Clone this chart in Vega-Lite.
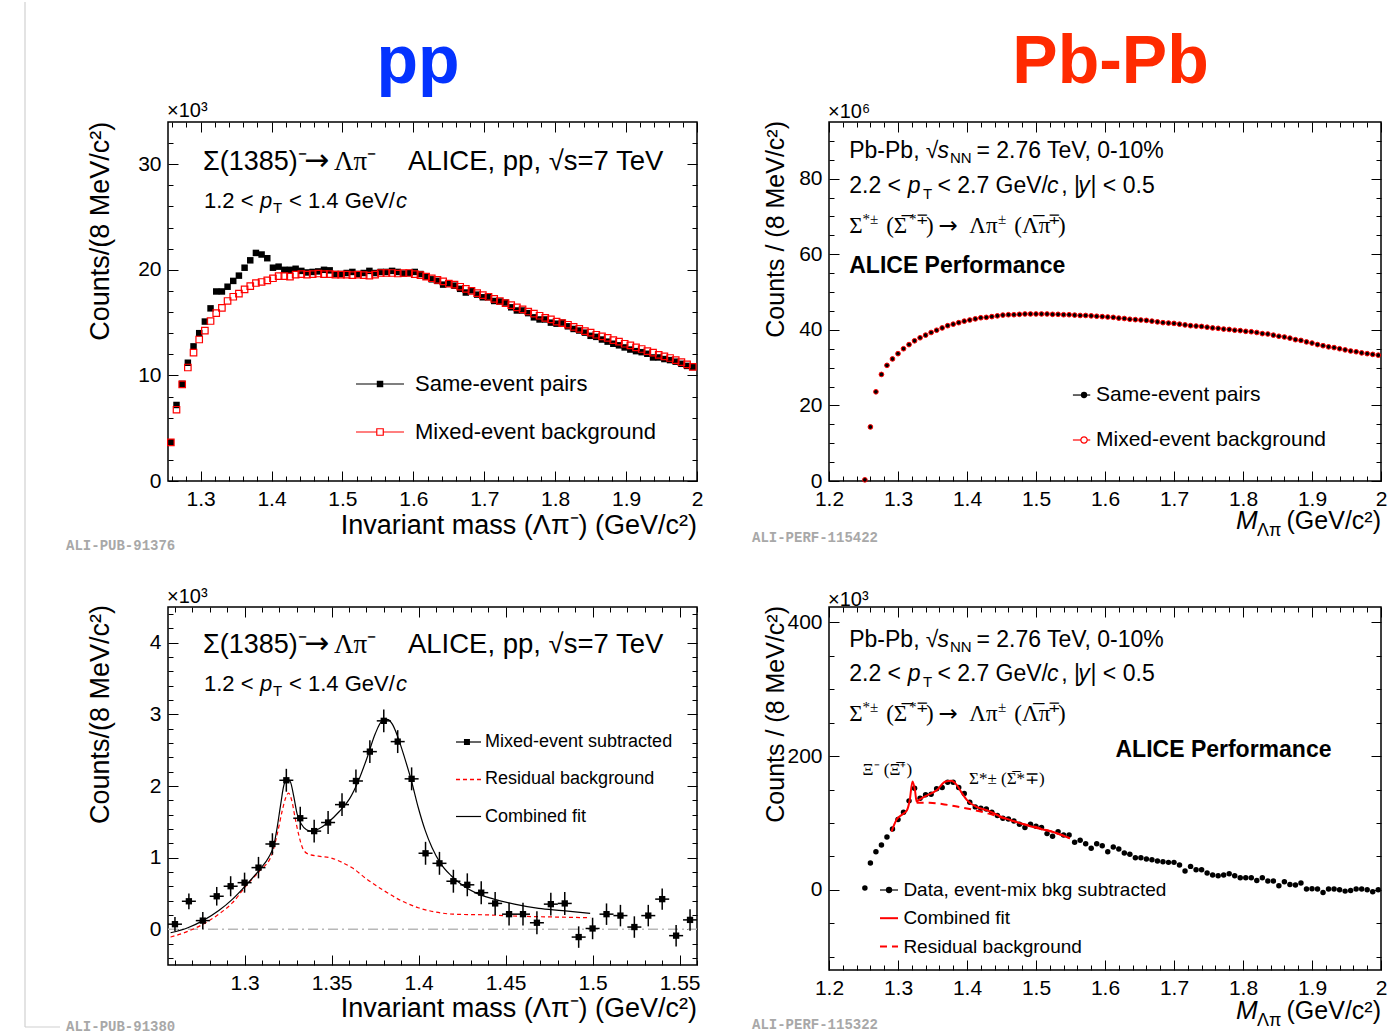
{
"$schema":"https://vega.github.io/schema/vega-lite/v6.json",
"padding":{"left":23,"top":0,"right":0,"bottom":0},
"background":"white",
"config":{
 "font":"Liberation Sans",
 "view":{"stroke":"black","strokeWidth":1.5},
 "axis":{"domain":false,"grid":false,"tickColor":"black","tickWidth":1,"labelColor":"black","labelFont":"Liberation Sans","labelFontSize":21,"labelFlush":false,"labelOverlap":false,"labelBound":false},
 "text":{"font":"Liberation Sans","color":"black","baseline":"alphabetic","align":"left","fontSize":22}
},
"datasets":{
 "tl":[{"m":1.258,"s":3.65,"b":3.65},{"m":1.266,"s":7.2,"b":6.75},{"m":1.274,"s":9.2,"b":9.15},{"m":1.282,"s":11.2,"b":10.75},{"m":1.29,"s":12.75,"b":12.15},{"m":1.298,"s":14.0,"b":13.4},{"m":1.306,"s":15.1,"b":14.25},{"m":1.314,"s":16.35,"b":15.15},{"m":1.322,"s":17.95,"b":15.9},{"m":1.33,"s":17.95,"b":16.4},{"m":1.338,"s":18.4,"b":17.05},{"m":1.346,"s":18.95,"b":17.45},{"m":1.354,"s":19.45,"b":17.75},{"m":1.362,"s":20.2,"b":18.15},{"m":1.37,"s":20.9,"b":18.45},{"m":1.378,"s":21.6,"b":18.75},{"m":1.386,"s":21.45,"b":18.85},{"m":1.394,"s":21.1,"b":19.0},{"m":1.402,"s":20.2,"b":19.2},{"m":1.41,"s":20.3,"b":19.4},{"m":1.418,"s":20.0,"b":19.4},{"m":1.426,"s":20.0,"b":19.35},{"m":1.434,"s":20.1,"b":19.55},{"m":1.442,"s":19.9,"b":19.6},{"m":1.45,"s":19.75,"b":19.55},{"m":1.458,"s":19.8,"b":19.6},{"m":1.466,"s":19.85,"b":19.65},{"m":1.474,"s":20.0,"b":19.6},{"m":1.482,"s":19.95,"b":19.6},{"m":1.49,"s":19.6,"b":19.55},{"m":1.498,"s":19.6,"b":19.55},{"m":1.506,"s":19.7,"b":19.55},{"m":1.514,"s":19.8,"b":19.5},{"m":1.522,"s":19.6,"b":19.55},{"m":1.53,"s":19.7,"b":19.5},{"m":1.538,"s":19.9,"b":19.45},{"m":1.546,"s":19.7,"b":19.55},{"m":1.554,"s":19.8,"b":19.7},{"m":1.562,"s":19.8,"b":19.7},{"m":1.57,"s":19.9,"b":19.7},{"m":1.578,"s":19.8,"b":19.65},{"m":1.586,"s":19.65,"b":19.7},{"m":1.594,"s":19.7,"b":19.7},{"m":1.602,"s":19.8,"b":19.6},{"m":1.61,"s":19.6,"b":19.5},{"m":1.618,"s":19.35,"b":19.35},{"m":1.626,"s":19.1,"b":19.2},{"m":1.634,"s":18.95,"b":19.05},{"m":1.642,"s":18.6,"b":18.9},{"m":1.65,"s":18.7,"b":18.7},{"m":1.658,"s":18.5,"b":18.6},{"m":1.666,"s":18.2,"b":18.4},{"m":1.674,"s":17.85,"b":18.2},{"m":1.682,"s":18.05,"b":18.0},{"m":1.69,"s":17.65,"b":17.8},{"m":1.698,"s":17.4,"b":17.6},{"m":1.706,"s":17.4,"b":17.45},{"m":1.714,"s":17.05,"b":17.25},{"m":1.722,"s":17.0,"b":17.05},{"m":1.73,"s":16.9,"b":16.85},{"m":1.738,"s":16.45,"b":16.65},{"m":1.746,"s":16.15,"b":16.45},{"m":1.754,"s":16.15,"b":16.25},{"m":1.762,"s":15.9,"b":16.05},{"m":1.77,"s":15.5,"b":15.85},{"m":1.778,"s":15.3,"b":15.65},{"m":1.786,"s":15.3,"b":15.45},{"m":1.794,"s":15.0,"b":15.3},{"m":1.802,"s":14.9,"b":15.1},{"m":1.81,"s":15.0,"b":14.95},{"m":1.818,"s":14.65,"b":14.8},{"m":1.826,"s":14.4,"b":14.6},{"m":1.834,"s":14.25,"b":14.4},{"m":1.842,"s":14.05,"b":14.2},{"m":1.85,"s":13.75,"b":14.05},{"m":1.858,"s":13.65,"b":13.85},{"m":1.866,"s":13.4,"b":13.7},{"m":1.874,"s":13.2,"b":13.55},{"m":1.882,"s":13.0,"b":13.35},{"m":1.89,"s":12.85,"b":13.2},{"m":1.898,"s":12.65,"b":13.0},{"m":1.906,"s":12.45,"b":12.85},{"m":1.914,"s":12.3,"b":12.65},{"m":1.922,"s":12.2,"b":12.5},{"m":1.93,"s":12.05,"b":12.3},{"m":1.938,"s":11.7,"b":12.15},{"m":1.946,"s":11.7,"b":11.95},{"m":1.954,"s":11.55,"b":11.8},{"m":1.962,"s":11.45,"b":11.65},{"m":1.97,"s":11.3,"b":11.45},{"m":1.978,"s":11.1,"b":11.25},{"m":1.986,"s":10.9,"b":11.05},{"m":1.994,"s":10.8,"b":10.8}],
 "tr":[{"m":1.252,"s":0.3},{"m":1.26,"s":14.3},{"m":1.268,"s":23.6},{"m":1.276,"s":28.2},{"m":1.284,"s":30.6},{"m":1.292,"s":32.3},{"m":1.3,"s":33.7},{"m":1.308,"s":35.0},{"m":1.316,"s":36.1},{"m":1.324,"s":37.1},{"m":1.332,"s":37.9},{"m":1.34,"s":38.6},{"m":1.348,"s":39.3},{"m":1.356,"s":39.9},{"m":1.364,"s":40.5},{"m":1.372,"s":41.1},{"m":1.38,"s":41.5},{"m":1.388,"s":41.9},{"m":1.396,"s":42.3},{"m":1.404,"s":42.6},{"m":1.412,"s":42.9},{"m":1.42,"s":43.2},{"m":1.428,"s":43.3},{"m":1.436,"s":43.5},{"m":1.444,"s":43.7},{"m":1.452,"s":43.9},{"m":1.46,"s":44.0},{"m":1.468,"s":44.0},{"m":1.476,"s":44.1},{"m":1.484,"s":44.2},{"m":1.492,"s":44.2},{"m":1.5,"s":44.2},{"m":1.508,"s":44.2},{"m":1.516,"s":44.2},{"m":1.524,"s":44.1},{"m":1.532,"s":44.1},{"m":1.54,"s":44.0},{"m":1.548,"s":44.0},{"m":1.556,"s":43.9},{"m":1.564,"s":43.8},{"m":1.572,"s":43.8},{"m":1.58,"s":43.7},{"m":1.588,"s":43.6},{"m":1.596,"s":43.5},{"m":1.604,"s":43.4},{"m":1.612,"s":43.3},{"m":1.62,"s":43.1},{"m":1.628,"s":43.0},{"m":1.636,"s":42.8},{"m":1.644,"s":42.7},{"m":1.652,"s":42.6},{"m":1.66,"s":42.5},{"m":1.668,"s":42.3},{"m":1.676,"s":42.1},{"m":1.684,"s":41.9},{"m":1.692,"s":41.8},{"m":1.7,"s":41.7},{"m":1.708,"s":41.5},{"m":1.716,"s":41.3},{"m":1.724,"s":41.1},{"m":1.732,"s":41.0},{"m":1.74,"s":40.9},{"m":1.748,"s":40.7},{"m":1.756,"s":40.5},{"m":1.764,"s":40.4},{"m":1.772,"s":40.2},{"m":1.78,"s":40.1},{"m":1.788,"s":39.9},{"m":1.796,"s":39.8},{"m":1.804,"s":39.6},{"m":1.812,"s":39.5},{"m":1.82,"s":39.3},{"m":1.828,"s":39.0},{"m":1.836,"s":38.9},{"m":1.844,"s":38.6},{"m":1.852,"s":38.3},{"m":1.86,"s":38.1},{"m":1.868,"s":37.8},{"m":1.876,"s":37.4},{"m":1.884,"s":37.2},{"m":1.892,"s":36.8},{"m":1.9,"s":36.5},{"m":1.908,"s":36.1},{"m":1.916,"s":35.8},{"m":1.924,"s":35.5},{"m":1.932,"s":35.3},{"m":1.94,"s":35.0},{"m":1.948,"s":34.7},{"m":1.956,"s":34.4},{"m":1.964,"s":34.2},{"m":1.972,"s":33.9},{"m":1.98,"s":33.7},{"m":1.988,"s":33.5},{"m":1.996,"s":33.3}],
 "bl":[{"m":1.26,"y":0.07,"e":0.1},{"m":1.268,"y":0.39,"e":0.11},{"m":1.276,"y":0.12,"e":0.12},{"m":1.284,"y":0.46,"e":0.13},{"m":1.292,"y":0.6,"e":0.14},{"m":1.3,"y":0.65,"e":0.14},{"m":1.308,"y":0.86,"e":0.15},{"m":1.316,"y":1.19,"e":0.15},{"m":1.324,"y":2.08,"e":0.16},{"m":1.332,"y":1.55,"e":0.16},{"m":1.34,"y":1.37,"e":0.16},{"m":1.348,"y":1.49,"e":0.16},{"m":1.356,"y":1.74,"e":0.16},{"m":1.364,"y":2.07,"e":0.16},{"m":1.372,"y":2.48,"e":0.16},{"m":1.38,"y":2.91,"e":0.16},{"m":1.388,"y":2.62,"e":0.16},{"m":1.396,"y":2.1,"e":0.16},{"m":1.404,"y":1.06,"e":0.16},{"m":1.412,"y":0.92,"e":0.16},{"m":1.42,"y":0.67,"e":0.16},{"m":1.428,"y":0.62,"e":0.16},{"m":1.436,"y":0.51,"e":0.16},{"m":1.444,"y":0.36,"e":0.16},{"m":1.452,"y":0.21,"e":0.16},{"m":1.46,"y":0.21,"e":0.16},{"m":1.468,"y":0.09,"e":0.16},{"m":1.476,"y":0.35,"e":0.16},{"m":1.484,"y":0.36,"e":0.16},{"m":1.492,"y":-0.11,"e":0.15},{"m":1.5,"y":0.01,"e":0.15},{"m":1.508,"y":0.21,"e":0.15},{"m":1.516,"y":0.19,"e":0.15},{"m":1.524,"y":0.03,"e":0.15},{"m":1.532,"y":0.19,"e":0.15},{"m":1.54,"y":0.42,"e":0.15},{"m":1.548,"y":-0.09,"e":0.15},{"m":1.556,"y":0.13,"e":0.15}],
 "blfit":[{"m":1.2575,"y":-0.05},{"m":1.2674,"y":0.02},{"m":1.2761,"y":0.12},{"m":1.2852,"y":0.26},{"m":1.2931,"y":0.42},{"m":1.301,"y":0.62},{"m":1.3089,"y":0.84},{"m":1.3138,"y":1.0},{"m":1.3168,"y":1.17},{"m":1.3188,"y":1.43},{"m":1.3208,"y":1.75},{"m":1.3227,"y":2.02},{"m":1.3247,"y":2.09},{"m":1.3263,"y":2.06},{"m":1.3283,"y":1.85},{"m":1.3302,"y":1.61},{"m":1.3326,"y":1.47},{"m":1.3356,"y":1.39},{"m":1.3385,"y":1.37},{"m":1.3425,"y":1.4},{"m":1.3484,"y":1.5},{"m":1.3543,"y":1.64},{"m":1.3603,"y":1.82},{"m":1.3652,"y":2.06},{"m":1.3702,"y":2.38},{"m":1.3751,"y":2.73},{"m":1.3791,"y":2.91},{"m":1.382,"y":2.93},{"m":1.385,"y":2.86},{"m":1.388,"y":2.69},{"m":1.3919,"y":2.4},{"m":1.3958,"y":2.08},{"m":1.3998,"y":1.7},{"m":1.4038,"y":1.38},{"m":1.4077,"y":1.14},{"m":1.4126,"y":0.92},{"m":1.4186,"y":0.75},{"m":1.4255,"y":0.61},{"m":1.4334,"y":0.5},{"m":1.4433,"y":0.42},{"m":1.4551,"y":0.35},{"m":1.469,"y":0.29},{"m":1.4828,"y":0.26},{"m":1.4986,"y":0.22}],
 "blbg":[{"m":1.2575,"y":-0.11},{"m":1.2674,"y":-0.03},{"m":1.2761,"y":0.07},{"m":1.2852,"y":0.21},{"m":1.2931,"y":0.37},{"m":1.301,"y":0.61},{"m":1.3089,"y":0.82},{"m":1.3158,"y":1.05},{"m":1.3188,"y":1.33},{"m":1.3217,"y":1.66},{"m":1.3237,"y":1.84},{"m":1.3253,"y":1.9},{"m":1.3271,"y":1.8},{"m":1.329,"y":1.56},{"m":1.331,"y":1.33},{"m":1.3336,"y":1.12},{"m":1.3366,"y":1.05},{"m":1.3425,"y":1.02},{"m":1.3504,"y":0.99},{"m":1.3563,"y":0.93},{"m":1.3623,"y":0.85},{"m":1.3702,"y":0.7},{"m":1.38,"y":0.54},{"m":1.3899,"y":0.4},{"m":1.3998,"y":0.3},{"m":1.4097,"y":0.24},{"m":1.4196,"y":0.21},{"m":1.4393,"y":0.2},{"m":1.459,"y":0.18},{"m":1.4789,"y":0.17},{"m":1.4986,"y":0.16}],
 "br":[{"m":1.252,"y":2.5},{"m":1.26,"y":40},{"m":1.268,"y":57},{"m":1.276,"y":67},{"m":1.284,"y":79},{"m":1.292,"y":91},{"m":1.3,"y":105},{"m":1.308,"y":116},{"m":1.316,"y":133},{"m":1.324,"y":152},{"m":1.332,"y":137},{"m":1.34,"y":142},{"m":1.348,"y":143},{"m":1.356,"y":151},{"m":1.364,"y":153},{"m":1.372,"y":161},{"m":1.38,"y":161},{"m":1.388,"y":153},{"m":1.396,"y":144},{"m":1.404,"y":131},{"m":1.412,"y":124},{"m":1.42,"y":122},{"m":1.428,"y":121},{"m":1.436,"y":116},{"m":1.444,"y":111},{"m":1.452,"y":107},{"m":1.46,"y":106},{"m":1.468,"y":103},{"m":1.476,"y":98},{"m":1.484,"y":93},{"m":1.492,"y":98},{"m":1.5,"y":95},{"m":1.508,"y":93},{"m":1.516,"y":84},{"m":1.524,"y":80},{"m":1.532,"y":87},{"m":1.54,"y":82},{"m":1.548,"y":82},{"m":1.556,"y":71},{"m":1.564,"y":74},{"m":1.572,"y":69},{"m":1.58,"y":62},{"m":1.588,"y":69},{"m":1.596,"y":66},{"m":1.604,"y":57},{"m":1.612,"y":64},{"m":1.62,"y":61},{"m":1.628,"y":55},{"m":1.636,"y":53},{"m":1.644,"y":48},{"m":1.652,"y":48},{"m":1.66,"y":46},{"m":1.668,"y":45},{"m":1.676,"y":43},{"m":1.684,"y":42},{"m":1.692,"y":41},{"m":1.7,"y":41},{"m":1.708,"y":37},{"m":1.716,"y":28},{"m":1.724,"y":35},{"m":1.732,"y":30},{"m":1.74,"y":30},{"m":1.748,"y":25},{"m":1.756,"y":22},{"m":1.764,"y":21},{"m":1.772,"y":22},{"m":1.78,"y":24},{"m":1.788,"y":21},{"m":1.796,"y":18},{"m":1.804,"y":18},{"m":1.812,"y":18},{"m":1.82,"y":14},{"m":1.828,"y":18},{"m":1.836,"y":13},{"m":1.844,"y":13},{"m":1.852,"y":6},{"m":1.86,"y":12},{"m":1.868,"y":8},{"m":1.876,"y":7},{"m":1.884,"y":10},{"m":1.892,"y":1},{"m":1.9,"y":1.5},{"m":1.908,"y":1},{"m":1.916,"y":-4},{"m":1.924,"y":1},{"m":1.932,"y":1},{"m":1.94,"y":0},{"m":1.948,"y":-2},{"m":1.956,"y":-1},{"m":1.964,"y":1},{"m":1.972,"y":1},{"m":1.98,"y":0},{"m":1.988,"y":-3},{"m":1.996,"y":0}],
 "brfit":[{"m":1.2906,"y":87},{"m":1.298,"y":105},{"m":1.308,"y":114},{"m":1.313,"y":119},{"m":1.317,"y":134},{"m":1.321,"y":162},{"m":1.3246,"y":149},{"m":1.327,"y":132},{"m":1.33,"y":134},{"m":1.34,"y":140},{"m":1.356,"y":149},{"m":1.369,"y":162},{"m":1.377,"y":163},{"m":1.385,"y":157},{"m":1.393,"y":144},{"m":1.4,"y":134},{"m":1.4136,"y":124},{"m":1.429,"y":119},{"m":1.45,"y":109},{"m":1.476,"y":100},{"m":1.5026,"y":92},{"m":1.529,"y":85},{"m":1.549,"y":77}],
 "brbg":[{"m":1.327,"y":130},{"m":1.3455,"y":130},{"m":1.3717,"y":127},{"m":1.398,"y":122},{"m":1.424,"y":116},{"m":1.45,"y":108},{"m":1.476,"y":100},{"m":1.503,"y":93},{"m":1.529,"y":85},{"m":1.549,"y":77}]
},
"columns":2,
"spacing":{"row":126,"column":132},
"bounds":"flush",
"align":"each",
"concat":[
{
 "width":529,"height":359,
 "resolve":{"axis":{"x":"independent","y":"independent"}},
 "layer":[
  {"data":{"name":"tl"},"mark":{"type":"point","opacity":0},"encoding":{
   "x":{"field":"m","type":"quantitative","scale":{"domain":[1.254,2]},"axis":{"orient":"bottom","title":null,"values":[1.3,1.4,1.5,1.6,1.7,1.8,1.9,2],"format":"~r","tickSize":-10,"labelPadding":17}},
   "y":{"field":"s","type":"quantitative","scale":{"domain":[0,34]},"axis":{"orient":"left","title":null,"values":[0,10,20,30],"format":"~r","tickSize":-10,"labelPadding":17}}}},
  {"data":{"name":"tl"},"mark":{"type":"point","opacity":0},"encoding":{
   "x":{"field":"m","type":"quantitative","scale":{"domain":[1.254,2]},"axis":{"orient":"bottom","title":null,"labels":false,"values":[1.26,1.28,1.32,1.34,1.36,1.38,1.42,1.44,1.46,1.48,1.52,1.54,1.56,1.58,1.62,1.64,1.66,1.68,1.72,1.74,1.76,1.78,1.82,1.84,1.86,1.88,1.92,1.94,1.96,1.98],"tickSize":-5}},
   "y":{"field":"s","type":"quantitative","scale":{"domain":[0,34]},"axis":{"orient":"left","title":null,"labels":false,"values":[2,4,6,8,12,14,16,18,22,24,26,28,32],"tickSize":-5}}}},
  {"data":{"name":"tl"},"mark":{"type":"point","opacity":0},"encoding":{
   "x":{"field":"m","type":"quantitative","scale":{"domain":[1.254,2]},"axis":{"orient":"top","title":null,"labels":false,"values":[1.3,1.4,1.5,1.6,1.7,1.8,1.9,2],"tickSize":-10}},
   "y":{"field":"s","type":"quantitative","scale":{"domain":[0,34]},"axis":{"orient":"right","title":null,"labels":false,"values":[0,10,20,30],"tickSize":-10}}}},
  {"data":{"name":"tl"},"mark":{"type":"point","opacity":0},"encoding":{
   "x":{"field":"m","type":"quantitative","scale":{"domain":[1.254,2]},"axis":{"orient":"top","title":null,"labels":false,"values":[1.26,1.28,1.32,1.34,1.36,1.38,1.42,1.44,1.46,1.48,1.52,1.54,1.56,1.58,1.62,1.64,1.66,1.68,1.72,1.74,1.76,1.78,1.82,1.84,1.86,1.88,1.92,1.94,1.96,1.98],"tickSize":-5}},
   "y":{"field":"s","type":"quantitative","scale":{"domain":[0,34]},"axis":{"orient":"right","title":null,"labels":false,"values":[2,4,6,8,12,14,16,18,22,24,26,28,32],"tickSize":-5}}}},
  {"data":{"name":"tl"},"mark":{"type":"square","filled":true,"color":"black","size":42,"opacity":1},"encoding":{
   "x":{"field":"m","type":"quantitative","scale":{"domain":[1.254,2]},"axis":null},
   "y":{"field":"s","type":"quantitative","scale":{"domain":[0,34]},"axis":null}}},
  {"data":{"name":"tl"},"mark":{"type":"square","filled":false,"color":"#ff0000","strokeWidth":1.2,"size":42,"opacity":1},"encoding":{
   "x":{"field":"m","type":"quantitative","scale":{"domain":[1.254,2]},"axis":null},
   "y":{"field":"b","type":"quantitative","scale":{"domain":[0,34]},"axis":null}}},
  {"data":{"values":[{}]},"layer":[
   {"mark":{"type":"rule","color":"#d0d0d0","strokeWidth":1.2},"encoding":{"x":{"datum":1.05234,"type":"quantitative","scale":{"domain":[1.254,2]},"axis":null},"y":{"datum":45.365,"type":"quantitative","scale":{"domain":[0,34]},"axis":null},"y2":{"datum":-51.71}}},
   {"mark":{"type":"rule","color":"#d0d0d0","strokeWidth":1.2},"encoding":{"x":{"datum":1.05234,"type":"quantitative","scale":{"domain":[1.254,2]},"axis":null},"x2":{"datum":1.1017},"y":{"datum":-51.71,"type":"quantitative","scale":{"domain":[0,34]},"axis":null}}},
   {"mark":{"type":"text","text":"pp","fontSize":68,"fontWeight":"bold","color":"#0433ff","align":"center"},"encoding":{"x":{"datum":1.6066,"type":"quantitative","scale":{"domain":[1.254,2]},"axis":null},"y":{"datum":37.69,"type":"quantitative","scale":{"domain":[0,34]},"axis":null}}},
   {"mark":{"type":"text","text":"×10³","fontSize":20},"encoding":{"x":{"datum":1.2526,"type":"quantitative","scale":{"domain":[1.254,2]},"axis":null},"y":{"datum":34.47,"type":"quantitative","scale":{"domain":[0,34]},"axis":null}}},
   {"mark":{"type":"text","text":"Σ(1385)⁻","fontSize":27},"encoding":{"x":{"datum":1.3034,"type":"quantitative","scale":{"domain":[1.254,2]},"axis":null},"y":{"datum":29.45,"type":"quantitative","scale":{"domain":[0,34]},"axis":null}}},
   {"mark":{"type":"text","text":"→","fontSize":30,"font":"DejaVu Sans"},"encoding":{"x":{"datum":1.4458,"type":"quantitative","scale":{"domain":[1.254,2]},"axis":null},"y":{"datum":29.45,"type":"quantitative","scale":{"domain":[0,34]},"axis":null}}},
   {"mark":{"type":"text","text":"Λπ","fontSize":27,"font":"Liberation Serif"},"encoding":{"x":{"datum":1.4881,"type":"quantitative","scale":{"domain":[1.254,2]},"axis":null},"y":{"datum":29.45,"type":"quantitative","scale":{"domain":[0,34]},"axis":null}}},
   {"mark":{"type":"text","text":"⁻","fontSize":27},"encoding":{"x":{"datum":1.5346,"type":"quantitative","scale":{"domain":[1.254,2]},"axis":null},"y":{"datum":29.45,"type":"quantitative","scale":{"domain":[0,34]},"axis":null}}},
   {"mark":{"type":"text","text":"ALICE, pp, √s=7 TeV","fontSize":27.5},"encoding":{"x":{"datum":1.5925,"type":"quantitative","scale":{"domain":[1.254,2]},"axis":null},"y":{"datum":29.45,"type":"quantitative","scale":{"domain":[0,34]},"axis":null}}},
   {"mark":{"type":"text","text":"1.2 <","fontSize":22},"encoding":{"x":{"datum":1.3048,"type":"quantitative","scale":{"domain":[1.254,2]},"axis":null},"y":{"datum":25.855,"type":"quantitative","scale":{"domain":[0,34]},"axis":null}}},
   {"mark":{"type":"text","text":"p","fontSize":22,"fontStyle":"italic","dx":56},"encoding":{"x":{"datum":1.3048,"type":"quantitative","scale":{"domain":[1.254,2]},"axis":null},"y":{"datum":25.855,"type":"quantitative","scale":{"domain":[0,34]},"axis":null}}},
   {"mark":{"type":"text","text":"T","fontSize":15,"dx":69,"dy":5},"encoding":{"x":{"datum":1.3048,"type":"quantitative","scale":{"domain":[1.254,2]},"axis":null},"y":{"datum":25.855,"type":"quantitative","scale":{"domain":[0,34]},"axis":null}}},
   {"mark":{"type":"text","text":"< 1.4 GeV/","fontSize":22,"dx":85},"encoding":{"x":{"datum":1.3048,"type":"quantitative","scale":{"domain":[1.254,2]},"axis":null},"y":{"datum":25.855,"type":"quantitative","scale":{"domain":[0,34]},"axis":null}}},
   {"mark":{"type":"text","text":"c","fontSize":22,"fontStyle":"italic","dx":192},"encoding":{"x":{"datum":1.3048,"type":"quantitative","scale":{"domain":[1.254,2]},"axis":null},"y":{"datum":25.855,"type":"quantitative","scale":{"domain":[0,34]},"axis":null}}},
   {"mark":{"type":"rule","color":"black","strokeWidth":1.2},"encoding":{"x":{"datum":1.5191,"type":"quantitative","scale":{"domain":[1.254,2]},"axis":null},"x2":{"datum":1.5868},"y":{"datum":9.187,"type":"quantitative","scale":{"domain":[0,34]},"axis":null}}},
   {"mark":{"type":"square","filled":true,"color":"black","size":42,"opacity":1},"encoding":{"x":{"datum":1.553,"type":"quantitative","scale":{"domain":[1.254,2]},"axis":null},"y":{"datum":9.187,"type":"quantitative","scale":{"domain":[0,34]},"axis":null}}},
   {"mark":{"type":"text","text":"Same-event pairs","fontSize":22,"baseline":"middle"},"encoding":{"x":{"datum":1.6023,"type":"quantitative","scale":{"domain":[1.254,2]},"axis":null},"y":{"datum":9.187,"type":"quantitative","scale":{"domain":[0,34]},"axis":null}}},
   {"mark":{"type":"rule","color":"#ff0000","strokeWidth":1.2},"encoding":{"x":{"datum":1.5191,"type":"quantitative","scale":{"domain":[1.254,2]},"axis":null},"x2":{"datum":1.5868},"y":{"datum":4.641,"type":"quantitative","scale":{"domain":[0,34]},"axis":null}}},
   {"mark":{"type":"square","filled":true,"color":"white","size":42,"opacity":1},"encoding":{"x":{"datum":1.553,"type":"quantitative","scale":{"domain":[1.254,2]},"axis":null},"y":{"datum":4.641,"type":"quantitative","scale":{"domain":[0,34]},"axis":null}}},
   {"mark":{"type":"square","filled":false,"color":"#ff0000","strokeWidth":1.2,"size":42,"opacity":1},"encoding":{"x":{"datum":1.553,"type":"quantitative","scale":{"domain":[1.254,2]},"axis":null},"y":{"datum":4.641,"type":"quantitative","scale":{"domain":[0,34]},"axis":null}}},
   {"mark":{"type":"text","text":"Mixed-event background","fontSize":22,"baseline":"middle"},"encoding":{"x":{"datum":1.6023,"type":"quantitative","scale":{"domain":[1.254,2]},"axis":null},"y":{"datum":4.641,"type":"quantitative","scale":{"domain":[0,34]},"axis":null}}},
   {"mark":{"type":"text","text":"Invariant mass (Λπ⁻) (GeV/c²)","fontSize":27,"align":"right"},"encoding":{"x":{"datum":2.0,"type":"quantitative","scale":{"domain":[1.254,2]},"axis":null},"y":{"datum":-5.02,"type":"quantitative","scale":{"domain":[0,34]},"axis":null}}},
   {"mark":{"type":"text","text":"Counts/(8 MeV/c²)","fontSize":27,"align":"right","angle":270},"encoding":{"x":{"datum":1.1708,"type":"quantitative","scale":{"domain":[1.254,2]},"axis":null},"y":{"datum":34.03,"type":"quantitative","scale":{"domain":[0,34]},"axis":null}}},
   {"mark":{"type":"text","text":"ALI-PUB-91376","font":"Liberation Mono","fontWeight":"bold","fontSize":14,"color":"#a8a8a8"},"encoding":{"x":{"datum":1.1102,"type":"quantitative","scale":{"domain":[1.254,2]},"axis":null},"y":{"datum":-6.535,"type":"quantitative","scale":{"domain":[0,34]},"axis":null}}}
  ]}
 ]
},
{
 "width":552,"height":359,
 "resolve":{"axis":{"x":"independent","y":"independent"}},
 "layer":[
  {"data":{"name":"tr"},"mark":{"type":"point","opacity":0},"encoding":{
   "x":{"field":"m","type":"quantitative","scale":{"domain":[1.2,2]},"axis":{"orient":"bottom","title":null,"values":[1.2,1.3,1.4,1.5,1.6,1.7,1.8,1.9,2],"format":"~r","tickSize":-10,"labelPadding":17}},
   "y":{"field":"s","type":"quantitative","scale":{"domain":[0,95]},"axis":{"orient":"left","title":null,"values":[0,20,40,60,80],"format":"~r","tickSize":-10,"labelPadding":17}}}},
  {"data":{"name":"tr"},"mark":{"type":"point","opacity":0},"encoding":{
   "x":{"field":"m","type":"quantitative","scale":{"domain":[1.2,2]},"axis":{"orient":"bottom","title":null,"labels":false,"values":[1.22,1.24,1.26,1.28,1.32,1.34,1.36,1.38,1.42,1.44,1.46,1.48,1.52,1.54,1.56,1.58,1.62,1.64,1.66,1.68,1.72,1.74,1.76,1.78,1.82,1.84,1.86,1.88,1.92,1.94,1.96,1.98],"tickSize":-5}},
   "y":{"field":"s","type":"quantitative","scale":{"domain":[0,95]},"axis":{"orient":"left","title":null,"labels":false,"values":[5,10,15,25,30,35,45,50,55,65,70,75,85,90],"tickSize":-5}}}},
  {"data":{"name":"tr"},"mark":{"type":"point","opacity":0},"encoding":{
   "x":{"field":"m","type":"quantitative","scale":{"domain":[1.2,2]},"axis":{"orient":"top","title":null,"labels":false,"values":[1.2,1.3,1.4,1.5,1.6,1.7,1.8,1.9,2],"tickSize":-10}},
   "y":{"field":"s","type":"quantitative","scale":{"domain":[0,95]},"axis":{"orient":"right","title":null,"labels":false,"values":[0,20,40,60,80],"tickSize":-10}}}},
  {"data":{"name":"tr"},"mark":{"type":"point","opacity":0},"encoding":{
   "x":{"field":"m","type":"quantitative","scale":{"domain":[1.2,2]},"axis":{"orient":"top","title":null,"labels":false,"values":[1.22,1.24,1.26,1.28,1.32,1.34,1.36,1.38,1.42,1.44,1.46,1.48,1.52,1.54,1.56,1.58,1.62,1.64,1.66,1.68,1.72,1.74,1.76,1.78,1.82,1.84,1.86,1.88,1.92,1.94,1.96,1.98],"tickSize":-5}},
   "y":{"field":"s","type":"quantitative","scale":{"domain":[0,95]},"axis":{"orient":"right","title":null,"labels":false,"values":[5,10,15,25,30,35,45,50,55,65,70,75,85,90],"tickSize":-5}}}},
  {"data":{"name":"tr"},"mark":{"type":"circle","color":"black","size":22,"opacity":1},"encoding":{
   "x":{"field":"m","type":"quantitative","scale":{"domain":[1.2,2]},"axis":null},
   "y":{"field":"s","type":"quantitative","scale":{"domain":[0,95]},"axis":null}}},
  {"data":{"name":"tr"},"mark":{"type":"point","shape":"circle","filled":false,"color":"#ff0000","strokeWidth":1,"size":22,"opacity":1},"encoding":{
   "x":{"field":"m","type":"quantitative","scale":{"domain":[1.2,2]},"axis":null},
   "y":{"field":"s","type":"quantitative","scale":{"domain":[0,95]},"axis":null}}},
  {"data":{"values":[{}]},"layer":[
   {"mark":{"type":"text","text":"Pb-Pb","fontSize":68,"fontWeight":"bold","color":"#ff2a00","align":"center"},"encoding":{"x":{"datum":1.608,"type":"quantitative","scale":{"domain":[1.2,2]},"axis":null},"y":{"datum":105.32,"type":"quantitative","scale":{"domain":[0,95]},"axis":null}}},
   {"mark":{"type":"text","text":"×10⁶","fontSize":20},"encoding":{"x":{"datum":1.1986,"type":"quantitative","scale":{"domain":[1.2,2]},"axis":null},"y":{"datum":96.06,"type":"quantitative","scale":{"domain":[0,95]},"axis":null}}},
   {"mark":{"type":"text","text":"Pb-Pb,","fontSize":23},"encoding":{"x":{"datum":1.2293,"type":"quantitative","scale":{"domain":[1.2,2]},"axis":null},"y":{"datum":85.37,"type":"quantitative","scale":{"domain":[0,95]},"axis":null}}},
   {"mark":{"type":"text","text":"√","fontSize":23},"encoding":{"x":{"datum":1.3403,"type":"quantitative","scale":{"domain":[1.2,2]},"axis":null},"y":{"datum":85.37,"type":"quantitative","scale":{"domain":[0,95]},"axis":null}}},
   {"mark":{"type":"text","text":"s","fontSize":23,"fontStyle":"italic"},"encoding":{"x":{"datum":1.3571,"type":"quantitative","scale":{"domain":[1.2,2]},"axis":null},"y":{"datum":85.37,"type":"quantitative","scale":{"domain":[0,95]},"axis":null}}},
   {"mark":{"type":"text","text":"NN","fontSize":15,"dy":5},"encoding":{"x":{"datum":1.3754,"type":"quantitative","scale":{"domain":[1.2,2]},"axis":null},"y":{"datum":85.37,"type":"quantitative","scale":{"domain":[0,95]},"axis":null}}},
   {"mark":{"type":"text","text":"= 2.76 TeV, 0-10%","fontSize":23},"encoding":{"x":{"datum":1.4136,"type":"quantitative","scale":{"domain":[1.2,2]},"axis":null},"y":{"datum":85.37,"type":"quantitative","scale":{"domain":[0,95]},"axis":null}}},
   {"mark":{"type":"text","text":"2.2 <","fontSize":23},"encoding":{"x":{"datum":1.2293,"type":"quantitative","scale":{"domain":[1.2,2]},"axis":null},"y":{"datum":76.29,"type":"quantitative","scale":{"domain":[0,95]},"axis":null}}},
   {"mark":{"type":"text","text":"p","fontSize":23,"fontStyle":"italic"},"encoding":{"x":{"datum":1.3142,"type":"quantitative","scale":{"domain":[1.2,2]},"axis":null},"y":{"datum":76.29,"type":"quantitative","scale":{"domain":[0,95]},"axis":null}}},
   {"mark":{"type":"text","text":"T","fontSize":15,"dy":6},"encoding":{"x":{"datum":1.3361,"type":"quantitative","scale":{"domain":[1.2,2]},"axis":null},"y":{"datum":76.29,"type":"quantitative","scale":{"domain":[0,95]},"axis":null}}},
   {"mark":{"type":"text","text":"< 2.7 GeV/","fontSize":23},"encoding":{"x":{"datum":1.3571,"type":"quantitative","scale":{"domain":[1.2,2]},"axis":null},"y":{"datum":76.29,"type":"quantitative","scale":{"domain":[0,95]},"axis":null}}},
   {"mark":{"type":"text","text":"c","fontSize":23,"fontStyle":"italic"},"encoding":{"x":{"datum":1.5159,"type":"quantitative","scale":{"domain":[1.2,2]},"axis":null},"y":{"datum":76.29,"type":"quantitative","scale":{"domain":[0,95]},"axis":null}}},
   {"mark":{"type":"text","text":", |","fontSize":23},"encoding":{"x":{"datum":1.5367,"type":"quantitative","scale":{"domain":[1.2,2]},"axis":null},"y":{"datum":76.29,"type":"quantitative","scale":{"domain":[0,95]},"axis":null}}},
   {"mark":{"type":"text","text":"y","fontSize":23,"fontStyle":"italic"},"encoding":{"x":{"datum":1.5613,"type":"quantitative","scale":{"domain":[1.2,2]},"axis":null},"y":{"datum":76.29,"type":"quantitative","scale":{"domain":[0,95]},"axis":null}}},
   {"mark":{"type":"text","text":"| < 0.5","fontSize":23},"encoding":{"x":{"datum":1.579,"type":"quantitative","scale":{"domain":[1.2,2]},"axis":null},"y":{"datum":76.29,"type":"quantitative","scale":{"domain":[0,95]},"axis":null}}},
   {"mark":{"type":"text","text":"Σ","fontSize":23,"font":"Liberation Serif"},"encoding":{"x":{"datum":1.2293,"type":"quantitative","scale":{"domain":[1.2,2]},"axis":null},"y":{"datum":65.52,"type":"quantitative","scale":{"domain":[0,95]},"axis":null}}},
   {"mark":{"type":"text","text":"*±","fontSize":15,"font":"Liberation Serif","dy":-9},"encoding":{"x":{"datum":1.2487,"type":"quantitative","scale":{"domain":[1.2,2]},"axis":null},"y":{"datum":65.52,"type":"quantitative","scale":{"domain":[0,95]},"axis":null}}},
   {"mark":{"type":"text","text":"(\u03a3\u0305","fontSize":23,"font":"Liberation Serif"},"encoding":{"x":{"datum":1.2828,"type":"quantitative","scale":{"domain":[1.2,2]},"axis":null},"y":{"datum":65.52,"type":"quantitative","scale":{"domain":[0,95]},"axis":null}}},
   {"mark":{"type":"text","text":"*∓","fontSize":15,"font":"Liberation Serif","dy":-9},"encoding":{"x":{"datum":1.3159,"type":"quantitative","scale":{"domain":[1.2,2]},"axis":null},"y":{"datum":65.52,"type":"quantitative","scale":{"domain":[0,95]},"axis":null}}},
   {"mark":{"type":"text","text":")","fontSize":23,"font":"Liberation Serif"},"encoding":{"x":{"datum":1.3406,"type":"quantitative","scale":{"domain":[1.2,2]},"axis":null},"y":{"datum":65.52,"type":"quantitative","scale":{"domain":[0,95]},"axis":null}}},
   {"mark":{"type":"text","text":"→","fontSize":23,"font":"DejaVu Sans"},"encoding":{"x":{"datum":1.3587,"type":"quantitative","scale":{"domain":[1.2,2]},"axis":null},"y":{"datum":65.52,"type":"quantitative","scale":{"domain":[0,95]},"axis":null}}},
   {"mark":{"type":"text","text":"Λπ","fontSize":23,"font":"Liberation Serif"},"encoding":{"x":{"datum":1.4032,"type":"quantitative","scale":{"domain":[1.2,2]},"axis":null},"y":{"datum":65.52,"type":"quantitative","scale":{"domain":[0,95]},"axis":null}}},
   {"mark":{"type":"text","text":"±","fontSize":15,"font":"Liberation Serif","dy":-9},"encoding":{"x":{"datum":1.4451,"type":"quantitative","scale":{"domain":[1.2,2]},"axis":null},"y":{"datum":65.52,"type":"quantitative","scale":{"domain":[0,95]},"axis":null}}},
   {"mark":{"type":"text","text":"(\u039b\u0305π","fontSize":23,"font":"Liberation Serif"},"encoding":{"x":{"datum":1.4686,"type":"quantitative","scale":{"domain":[1.2,2]},"axis":null},"y":{"datum":65.52,"type":"quantitative","scale":{"domain":[0,95]},"axis":null}}},
   {"mark":{"type":"text","text":"∓","fontSize":15,"font":"Liberation Serif","dy":-9},"encoding":{"x":{"datum":1.5174,"type":"quantitative","scale":{"domain":[1.2,2]},"axis":null},"y":{"datum":65.52,"type":"quantitative","scale":{"domain":[0,95]},"axis":null}}},
   {"mark":{"type":"text","text":")","fontSize":23,"font":"Liberation Serif"},"encoding":{"x":{"datum":1.5319,"type":"quantitative","scale":{"domain":[1.2,2]},"axis":null},"y":{"datum":65.52,"type":"quantitative","scale":{"domain":[0,95]},"axis":null}}},
   {"mark":{"type":"text","text":"ALICE Performance","fontSize":23,"fontWeight":"bold"},"encoding":{"x":{"datum":1.2293,"type":"quantitative","scale":{"domain":[1.2,2]},"axis":null},"y":{"datum":54.94,"type":"quantitative","scale":{"domain":[0,95]},"axis":null}}},
   {"mark":{"type":"rule","color":"black","strokeWidth":1.2},"encoding":{"x":{"datum":1.5535,"type":"quantitative","scale":{"domain":[1.2,2]},"axis":null},"x2":{"datum":1.5786},"y":{"datum":22.75,"type":"quantitative","scale":{"domain":[0,95]},"axis":null}}},
   {"mark":{"type":"circle","color":"black","size":40,"opacity":1},"encoding":{"x":{"datum":1.5696,"type":"quantitative","scale":{"domain":[1.2,2]},"axis":null},"y":{"datum":22.75,"type":"quantitative","scale":{"domain":[0,95]},"axis":null}}},
   {"mark":{"type":"text","text":"Same-event pairs","fontSize":21,"baseline":"middle"},"encoding":{"x":{"datum":1.587,"type":"quantitative","scale":{"domain":[1.2,2]},"axis":null},"y":{"datum":22.75,"type":"quantitative","scale":{"domain":[0,95]},"axis":null}}},
   {"mark":{"type":"rule","color":"#ff0000","strokeWidth":1.2},"encoding":{"x":{"datum":1.5535,"type":"quantitative","scale":{"domain":[1.2,2]},"axis":null},"x2":{"datum":1.5786},"y":{"datum":10.85,"type":"quantitative","scale":{"domain":[0,95]},"axis":null}}},
   {"mark":{"type":"circle","color":"white","size":40,"opacity":1},"encoding":{"x":{"datum":1.5696,"type":"quantitative","scale":{"domain":[1.2,2]},"axis":null},"y":{"datum":10.85,"type":"quantitative","scale":{"domain":[0,95]},"axis":null}}},
   {"mark":{"type":"point","shape":"circle","filled":false,"color":"#ff0000","strokeWidth":1.2,"size":40,"opacity":1},"encoding":{"x":{"datum":1.5696,"type":"quantitative","scale":{"domain":[1.2,2]},"axis":null},"y":{"datum":10.85,"type":"quantitative","scale":{"domain":[0,95]},"axis":null}}},
   {"mark":{"type":"text","text":"Mixed-event background","fontSize":21,"baseline":"middle"},"encoding":{"x":{"datum":1.587,"type":"quantitative","scale":{"domain":[1.2,2]},"axis":null},"y":{"datum":10.85,"type":"quantitative","scale":{"domain":[0,95]},"axis":null}}},
   {"mark":{"type":"text","text":"M","fontSize":26,"fontStyle":"italic"},"encoding":{"x":{"datum":1.7899,"type":"quantitative","scale":{"domain":[1.2,2]},"axis":null},"y":{"datum":-12.7,"type":"quantitative","scale":{"domain":[0,95]},"axis":null}}},
   {"mark":{"type":"text","text":"Λπ","fontSize":18,"dy":7},"encoding":{"x":{"datum":1.8203,"type":"quantitative","scale":{"domain":[1.2,2]},"axis":null},"y":{"datum":-12.7,"type":"quantitative","scale":{"domain":[0,95]},"axis":null}}},
   {"mark":{"type":"text","text":"(GeV/c²)","fontSize":25,"align":"right"},"encoding":{"x":{"datum":2.0,"type":"quantitative","scale":{"domain":[1.2,2]},"axis":null},"y":{"datum":-12.7,"type":"quantitative","scale":{"domain":[0,95]},"axis":null}}},
   {"mark":{"type":"text","text":"Counts / (8 MeV/c²)","fontSize":25,"align":"right","angle":270},"encoding":{"x":{"datum":1.1348,"type":"quantitative","scale":{"domain":[1.2,2]},"axis":null},"y":{"datum":95.27,"type":"quantitative","scale":{"domain":[0,95]},"axis":null}}},
   {"mark":{"type":"text","text":"ALI-PERF-115422","font":"Liberation Mono","fontWeight":"bold","fontSize":14,"color":"#a8a8a8"},"encoding":{"x":{"datum":1.0884,"type":"quantitative","scale":{"domain":[1.2,2]},"axis":null},"y":{"datum":-16.14,"type":"quantitative","scale":{"domain":[0,95]},"axis":null}}}
  ]}
 ]
},
{
 "width":529,"height":358,
 "resolve":{"axis":{"x":"independent","y":"independent"}},
 "layer":[
  {"data":{"name":"bl"},"mark":{"type":"point","opacity":0},"encoding":{
   "x":{"field":"m","type":"quantitative","scale":{"domain":[1.256,1.56]},"axis":{"orient":"bottom","title":null,"values":[1.3,1.35,1.4,1.45,1.5,1.55],"format":"~r","tickSize":-10,"labelPadding":17}},
   "y":{"field":"y","type":"quantitative","scale":{"domain":[-0.5,4.5]},"axis":{"orient":"left","title":null,"values":[0,1,2,3,4],"format":"~r","tickSize":-10,"labelPadding":17}}}},
  {"data":{"name":"bl"},"mark":{"type":"point","opacity":0},"encoding":{
   "x":{"field":"m","type":"quantitative","scale":{"domain":[1.256,1.56]},"axis":{"orient":"bottom","title":null,"labels":false,"values":[1.26,1.27,1.28,1.29,1.31,1.32,1.33,1.34,1.36,1.37,1.38,1.39,1.41,1.42,1.43,1.44,1.46,1.47,1.48,1.49,1.51,1.52,1.53,1.54,1.56],"tickSize":-5}},
   "y":{"field":"y","type":"quantitative","scale":{"domain":[-0.5,4.5]},"axis":{"orient":"left","title":null,"labels":false,"values":[-0.4,-0.2,0.2,0.4,0.6,0.8,1.2,1.4,1.6,1.8,2.2,2.4,2.6,2.8,3.2,3.4,3.6,3.8,4.2,4.4],"tickSize":-5}}}},
  {"data":{"name":"bl"},"mark":{"type":"point","opacity":0},"encoding":{
   "x":{"field":"m","type":"quantitative","scale":{"domain":[1.256,1.56]},"axis":{"orient":"top","title":null,"labels":false,"values":[1.3,1.35,1.4,1.45,1.5,1.55],"tickSize":-10}},
   "y":{"field":"y","type":"quantitative","scale":{"domain":[-0.5,4.5]},"axis":{"orient":"right","title":null,"labels":false,"values":[0,1,2,3,4],"tickSize":-10}}}},
  {"data":{"name":"bl"},"mark":{"type":"point","opacity":0},"encoding":{
   "x":{"field":"m","type":"quantitative","scale":{"domain":[1.256,1.56]},"axis":{"orient":"top","title":null,"labels":false,"values":[1.26,1.27,1.28,1.29,1.31,1.32,1.33,1.34,1.36,1.37,1.38,1.39,1.41,1.42,1.43,1.44,1.46,1.47,1.48,1.49,1.51,1.52,1.53,1.54,1.56],"tickSize":-5}},
   "y":{"field":"y","type":"quantitative","scale":{"domain":[-0.5,4.5]},"axis":{"orient":"right","title":null,"labels":false,"values":[-0.4,-0.2,0.2,0.4,0.6,0.8,1.2,1.4,1.6,1.8,2.2,2.4,2.6,2.8,3.2,3.4,3.6,3.8,4.2,4.4],"tickSize":-5}}}},
  {"data":{"values":[{}]},"mark":{"type":"rule","color":"#b8b8b8","strokeWidth":1.5,"strokeDash":[10,4,2,4]},"encoding":{"x":{"datum":1.256,"type":"quantitative","scale":{"domain":[1.256,1.56]},"axis":null},"x2":{"datum":1.56},"y":{"datum":0,"type":"quantitative","scale":{"domain":[-0.5,4.5]},"axis":null}}},
  {"data":{"name":"blbg"},"mark":{"type":"line","color":"#ff0000","strokeWidth":1.2,"strokeDash":[4,3],"interpolate":"monotone"},"encoding":{
   "x":{"field":"m","type":"quantitative","scale":{"domain":[1.256,1.56]},"axis":null},
   "y":{"field":"y","type":"quantitative","scale":{"domain":[-0.5,4.5]},"axis":null}}},
  {"data":{"name":"blfit"},"mark":{"type":"line","color":"black","strokeWidth":1.2,"interpolate":"monotone"},"encoding":{
   "x":{"field":"m","type":"quantitative","scale":{"domain":[1.256,1.56]},"axis":null},
   "y":{"field":"y","type":"quantitative","scale":{"domain":[-0.5,4.5]},"axis":null}}},
  {"data":{"name":"bl"},"mark":{"type":"errorbar","ticks":false,"thickness":1.5,"color":"black"},"encoding":{
   "x":{"field":"m","type":"quantitative","scale":{"domain":[1.256,1.56]},"axis":null},
   "y":{"field":"y","type":"quantitative","scale":{"domain":[-0.5,4.5]},"axis":null},
   "yError":{"field":"e"}}},
  {"data":{"name":"bl"},"mark":{"type":"tick","orient":"horizontal","size":14,"thickness":1.5,"color":"black","opacity":1},"encoding":{
   "x":{"field":"m","type":"quantitative","scale":{"domain":[1.256,1.56]},"axis":null},
   "y":{"field":"y","type":"quantitative","scale":{"domain":[-0.5,4.5]},"axis":null}}},
  {"data":{"name":"bl"},"mark":{"type":"square","filled":true,"color":"black","size":40,"opacity":1},"encoding":{
   "x":{"field":"m","type":"quantitative","scale":{"domain":[1.256,1.56]},"axis":null},
   "y":{"field":"y","type":"quantitative","scale":{"domain":[-0.5,4.5]},"axis":null}}},
  {"data":{"values":[{}]},"layer":[
   {"mark":{"type":"text","text":"×10³","fontSize":20},"encoding":{"x":{"datum":1.2554,"type":"quantitative","scale":{"domain":[1.256,1.56]},"axis":null},"y":{"datum":4.556,"type":"quantitative","scale":{"domain":[-0.5,4.5]},"axis":null}}},
   {"mark":{"type":"text","text":"Σ(1385)⁻","fontSize":27},"encoding":{"x":{"datum":1.2761,"type":"quantitative","scale":{"domain":[1.256,1.56]},"axis":null},"y":{"datum":3.8575,"type":"quantitative","scale":{"domain":[-0.5,4.5]},"axis":null}}},
   {"mark":{"type":"text","text":"→","fontSize":30,"font":"DejaVu Sans"},"encoding":{"x":{"datum":1.3342,"type":"quantitative","scale":{"domain":[1.256,1.56]},"axis":null},"y":{"datum":3.8575,"type":"quantitative","scale":{"domain":[-0.5,4.5]},"axis":null}}},
   {"mark":{"type":"text","text":"Λπ","fontSize":27,"font":"Liberation Serif"},"encoding":{"x":{"datum":1.3514,"type":"quantitative","scale":{"domain":[1.256,1.56]},"axis":null},"y":{"datum":3.8575,"type":"quantitative","scale":{"domain":[-0.5,4.5]},"axis":null}}},
   {"mark":{"type":"text","text":"⁻","fontSize":27},"encoding":{"x":{"datum":1.3704,"type":"quantitative","scale":{"domain":[1.256,1.56]},"axis":null},"y":{"datum":3.8575,"type":"quantitative","scale":{"domain":[-0.5,4.5]},"axis":null}}},
   {"mark":{"type":"text","text":"ALICE, pp, √s=7 TeV","fontSize":27.5},"encoding":{"x":{"datum":1.3939,"type":"quantitative","scale":{"domain":[1.256,1.56]},"axis":null},"y":{"datum":3.8575,"type":"quantitative","scale":{"domain":[-0.5,4.5]},"axis":null}}},
   {"mark":{"type":"text","text":"1.2 <","fontSize":22},"encoding":{"x":{"datum":1.2767,"type":"quantitative","scale":{"domain":[1.256,1.56]},"axis":null},"y":{"datum":3.3268,"type":"quantitative","scale":{"domain":[-0.5,4.5]},"axis":null}}},
   {"mark":{"type":"text","text":"p","fontSize":22,"fontStyle":"italic","dx":56},"encoding":{"x":{"datum":1.2767,"type":"quantitative","scale":{"domain":[1.256,1.56]},"axis":null},"y":{"datum":3.3268,"type":"quantitative","scale":{"domain":[-0.5,4.5]},"axis":null}}},
   {"mark":{"type":"text","text":"T","fontSize":15,"dx":69,"dy":5},"encoding":{"x":{"datum":1.2767,"type":"quantitative","scale":{"domain":[1.256,1.56]},"axis":null},"y":{"datum":3.3268,"type":"quantitative","scale":{"domain":[-0.5,4.5]},"axis":null}}},
   {"mark":{"type":"text","text":"< 1.4 GeV/","fontSize":22,"dx":85},"encoding":{"x":{"datum":1.2767,"type":"quantitative","scale":{"domain":[1.256,1.56]},"axis":null},"y":{"datum":3.3268,"type":"quantitative","scale":{"domain":[-0.5,4.5]},"axis":null}}},
   {"mark":{"type":"text","text":"c","fontSize":22,"fontStyle":"italic","dx":192},"encoding":{"x":{"datum":1.2767,"type":"quantitative","scale":{"domain":[1.256,1.56]},"axis":null},"y":{"datum":3.3268,"type":"quantitative","scale":{"domain":[-0.5,4.5]},"axis":null}}},
   {"mark":{"type":"rule","color":"black","strokeWidth":1.2},"encoding":{"x":{"datum":1.4215,"type":"quantitative","scale":{"domain":[1.256,1.56]},"axis":null},"x2":{"datum":1.4359},"y":{"datum":2.6145,"type":"quantitative","scale":{"domain":[-0.5,4.5]},"axis":null}}},
   {"mark":{"type":"square","filled":true,"color":"black","size":36,"opacity":1},"encoding":{"x":{"datum":1.4278,"type":"quantitative","scale":{"domain":[1.256,1.56]},"axis":null},"y":{"datum":2.6145,"type":"quantitative","scale":{"domain":[-0.5,4.5]},"axis":null}}},
   {"mark":{"type":"text","text":"Mixed-event subtracted","fontSize":18,"baseline":"middle"},"encoding":{"x":{"datum":1.4382,"type":"quantitative","scale":{"domain":[1.256,1.56]},"axis":null},"y":{"datum":2.6145,"type":"quantitative","scale":{"domain":[-0.5,4.5]},"axis":null}}},
   {"mark":{"type":"rule","color":"#ff0000","strokeWidth":1.5,"strokeDash":[4,3]},"encoding":{"x":{"datum":1.4215,"type":"quantitative","scale":{"domain":[1.256,1.56]},"axis":null},"x2":{"datum":1.4359},"y":{"datum":2.0908,"type":"quantitative","scale":{"domain":[-0.5,4.5]},"axis":null}}},
   {"mark":{"type":"text","text":"Residual background","fontSize":18,"baseline":"middle"},"encoding":{"x":{"datum":1.4382,"type":"quantitative","scale":{"domain":[1.256,1.56]},"axis":null},"y":{"datum":2.0908,"type":"quantitative","scale":{"domain":[-0.5,4.5]},"axis":null}}},
   {"mark":{"type":"rule","color":"black","strokeWidth":1.2},"encoding":{"x":{"datum":1.4215,"type":"quantitative","scale":{"domain":[1.256,1.56]},"axis":null},"x2":{"datum":1.4359},"y":{"datum":1.574,"type":"quantitative","scale":{"domain":[-0.5,4.5]},"axis":null}}},
   {"mark":{"type":"text","text":"Combined fit","fontSize":18,"baseline":"middle"},"encoding":{"x":{"datum":1.4382,"type":"quantitative","scale":{"domain":[1.256,1.56]},"axis":null},"y":{"datum":1.574,"type":"quantitative","scale":{"domain":[-0.5,4.5]},"axis":null}}},
   {"mark":{"type":"text","text":"Invariant mass (Λπ⁻) (GeV/c²)","fontSize":27,"align":"right"},"encoding":{"x":{"datum":1.56,"type":"quantitative","scale":{"domain":[1.256,1.56]},"axis":null},"y":{"datum":-1.226,"type":"quantitative","scale":{"domain":[-0.5,4.5]},"axis":null}}},
   {"mark":{"type":"text","text":"Counts/(8 MeV/c²)","fontSize":27,"align":"right","angle":270},"encoding":{"x":{"datum":1.2221,"type":"quantitative","scale":{"domain":[1.256,1.56]},"axis":null},"y":{"datum":4.528,"type":"quantitative","scale":{"domain":[-0.5,4.5]},"axis":null}}},
   {"mark":{"type":"text","text":"ALI-PUB-91380","font":"Liberation Mono","fontWeight":"bold","fontSize":14,"color":"#a8a8a8"},"encoding":{"x":{"datum":1.1974,"type":"quantitative","scale":{"domain":[1.256,1.56]},"axis":null},"y":{"datum":-1.4218,"type":"quantitative","scale":{"domain":[-0.5,4.5]},"axis":null}}}
  ]}
 ]
},
{
 "width":552,"height":363,
 "resolve":{"axis":{"x":"independent","y":"independent"}},
 "layer":[
  {"data":{"name":"br"},"mark":{"type":"point","opacity":0},"encoding":{
   "x":{"field":"m","type":"quantitative","scale":{"domain":[1.2,2]},"axis":{"orient":"bottom","title":null,"values":[1.2,1.3,1.4,1.5,1.6,1.7,1.8,1.9,2],"format":"~r","tickSize":-10,"labelPadding":17}},
   "y":{"field":"y","type":"quantitative","scale":{"domain":[-120,423]},"axis":{"orient":"left","title":null,"values":[0,200,400],"format":"~r","tickSize":-10,"labelPadding":17}}}},
  {"data":{"name":"br"},"mark":{"type":"point","opacity":0},"encoding":{
   "x":{"field":"m","type":"quantitative","scale":{"domain":[1.2,2]},"axis":{"orient":"bottom","title":null,"labels":false,"values":[1.22,1.24,1.26,1.28,1.32,1.34,1.36,1.38,1.42,1.44,1.46,1.48,1.52,1.54,1.56,1.58,1.62,1.64,1.66,1.68,1.72,1.74,1.76,1.78,1.82,1.84,1.86,1.88,1.92,1.94,1.96,1.98],"tickSize":-5}},
   "y":{"field":"y","type":"quantitative","scale":{"domain":[-120,423]},"axis":{"orient":"left","title":null,"labels":false,"values":[-100,-50,50,100,150,250,300,350],"tickSize":-5}}}},
  {"data":{"name":"br"},"mark":{"type":"point","opacity":0},"encoding":{
   "x":{"field":"m","type":"quantitative","scale":{"domain":[1.2,2]},"axis":{"orient":"top","title":null,"labels":false,"values":[1.2,1.3,1.4,1.5,1.6,1.7,1.8,1.9,2],"tickSize":-10}},
   "y":{"field":"y","type":"quantitative","scale":{"domain":[-120,423]},"axis":{"orient":"right","title":null,"labels":false,"values":[0,200,400],"tickSize":-10}}}},
  {"data":{"name":"br"},"mark":{"type":"point","opacity":0},"encoding":{
   "x":{"field":"m","type":"quantitative","scale":{"domain":[1.2,2]},"axis":{"orient":"top","title":null,"labels":false,"values":[1.22,1.24,1.26,1.28,1.32,1.34,1.36,1.38,1.42,1.44,1.46,1.48,1.52,1.54,1.56,1.58,1.62,1.64,1.66,1.68,1.72,1.74,1.76,1.78,1.82,1.84,1.86,1.88,1.92,1.94,1.96,1.98],"tickSize":-5}},
   "y":{"field":"y","type":"quantitative","scale":{"domain":[-120,423]},"axis":{"orient":"right","title":null,"labels":false,"values":[-100,-50,50,100,150,250,300,350],"tickSize":-5}}}},
  {"data":{"name":"br"},"mark":{"type":"circle","color":"black","size":30,"opacity":1},"encoding":{
   "x":{"field":"m","type":"quantitative","scale":{"domain":[1.2,2]},"axis":null},
   "y":{"field":"y","type":"quantitative","scale":{"domain":[-120,423]},"axis":null}}},
  {"data":{"name":"brbg"},"mark":{"type":"line","color":"#ff0000","strokeWidth":2,"strokeDash":[7,5],"interpolate":"monotone"},"encoding":{
   "x":{"field":"m","type":"quantitative","scale":{"domain":[1.2,2]},"axis":null},
   "y":{"field":"y","type":"quantitative","scale":{"domain":[-120,423]},"axis":null}}},
  {"data":{"name":"brfit"},"mark":{"type":"line","color":"#ff0000","strokeWidth":2,"interpolate":"monotone"},"encoding":{
   "x":{"field":"m","type":"quantitative","scale":{"domain":[1.2,2]},"axis":null},
   "y":{"field":"y","type":"quantitative","scale":{"domain":[-120,423]},"axis":null}}},
  {"data":{"values":[{}]},"layer":[
   {"mark":{"type":"text","text":"×10³","fontSize":20},"encoding":{"x":{"datum":1.1986,"type":"quantitative","scale":{"domain":[1.2,2]},"axis":null},"y":{"datum":424.5,"type":"quantitative","scale":{"domain":[-120,423]},"axis":null}}},
   {"mark":{"type":"text","text":"Pb-Pb,","fontSize":23},"encoding":{"x":{"datum":1.2293,"type":"quantitative","scale":{"domain":[1.2,2]},"axis":null},"y":{"datum":363.2,"type":"quantitative","scale":{"domain":[-120,423]},"axis":null}}},
   {"mark":{"type":"text","text":"√","fontSize":23},"encoding":{"x":{"datum":1.3403,"type":"quantitative","scale":{"domain":[1.2,2]},"axis":null},"y":{"datum":363.2,"type":"quantitative","scale":{"domain":[-120,423]},"axis":null}}},
   {"mark":{"type":"text","text":"s","fontSize":23,"fontStyle":"italic"},"encoding":{"x":{"datum":1.3571,"type":"quantitative","scale":{"domain":[1.2,2]},"axis":null},"y":{"datum":363.2,"type":"quantitative","scale":{"domain":[-120,423]},"axis":null}}},
   {"mark":{"type":"text","text":"NN","fontSize":15,"dy":5},"encoding":{"x":{"datum":1.3754,"type":"quantitative","scale":{"domain":[1.2,2]},"axis":null},"y":{"datum":363.2,"type":"quantitative","scale":{"domain":[-120,423]},"axis":null}}},
   {"mark":{"type":"text","text":"= 2.76 TeV, 0-10%","fontSize":23},"encoding":{"x":{"datum":1.4136,"type":"quantitative","scale":{"domain":[1.2,2]},"axis":null},"y":{"datum":363.2,"type":"quantitative","scale":{"domain":[-120,423]},"axis":null}}},
   {"mark":{"type":"text","text":"2.2 <","fontSize":23},"encoding":{"x":{"datum":1.2293,"type":"quantitative","scale":{"domain":[1.2,2]},"axis":null},"y":{"datum":312.3,"type":"quantitative","scale":{"domain":[-120,423]},"axis":null}}},
   {"mark":{"type":"text","text":"p","fontSize":23,"fontStyle":"italic"},"encoding":{"x":{"datum":1.3142,"type":"quantitative","scale":{"domain":[1.2,2]},"axis":null},"y":{"datum":312.3,"type":"quantitative","scale":{"domain":[-120,423]},"axis":null}}},
   {"mark":{"type":"text","text":"T","fontSize":15,"dy":6},"encoding":{"x":{"datum":1.3361,"type":"quantitative","scale":{"domain":[1.2,2]},"axis":null},"y":{"datum":312.3,"type":"quantitative","scale":{"domain":[-120,423]},"axis":null}}},
   {"mark":{"type":"text","text":"< 2.7 GeV/","fontSize":23},"encoding":{"x":{"datum":1.3571,"type":"quantitative","scale":{"domain":[1.2,2]},"axis":null},"y":{"datum":312.3,"type":"quantitative","scale":{"domain":[-120,423]},"axis":null}}},
   {"mark":{"type":"text","text":"c","fontSize":23,"fontStyle":"italic"},"encoding":{"x":{"datum":1.5159,"type":"quantitative","scale":{"domain":[1.2,2]},"axis":null},"y":{"datum":312.3,"type":"quantitative","scale":{"domain":[-120,423]},"axis":null}}},
   {"mark":{"type":"text","text":", |","fontSize":23},"encoding":{"x":{"datum":1.5367,"type":"quantitative","scale":{"domain":[1.2,2]},"axis":null},"y":{"datum":312.3,"type":"quantitative","scale":{"domain":[-120,423]},"axis":null}}},
   {"mark":{"type":"text","text":"y","fontSize":23,"fontStyle":"italic"},"encoding":{"x":{"datum":1.5613,"type":"quantitative","scale":{"domain":[1.2,2]},"axis":null},"y":{"datum":312.3,"type":"quantitative","scale":{"domain":[-120,423]},"axis":null}}},
   {"mark":{"type":"text","text":"| < 0.5","fontSize":23},"encoding":{"x":{"datum":1.579,"type":"quantitative","scale":{"domain":[1.2,2]},"axis":null},"y":{"datum":312.3,"type":"quantitative","scale":{"domain":[-120,423]},"axis":null}}},
   {"mark":{"type":"text","text":"Σ","fontSize":23,"font":"Liberation Serif"},"encoding":{"x":{"datum":1.2293,"type":"quantitative","scale":{"domain":[1.2,2]},"axis":null},"y":{"datum":253.1,"type":"quantitative","scale":{"domain":[-120,423]},"axis":null}}},
   {"mark":{"type":"text","text":"*±","fontSize":15,"font":"Liberation Serif","dy":-9},"encoding":{"x":{"datum":1.2487,"type":"quantitative","scale":{"domain":[1.2,2]},"axis":null},"y":{"datum":253.1,"type":"quantitative","scale":{"domain":[-120,423]},"axis":null}}},
   {"mark":{"type":"text","text":"(\u03a3\u0305","fontSize":23,"font":"Liberation Serif"},"encoding":{"x":{"datum":1.2828,"type":"quantitative","scale":{"domain":[1.2,2]},"axis":null},"y":{"datum":253.1,"type":"quantitative","scale":{"domain":[-120,423]},"axis":null}}},
   {"mark":{"type":"text","text":"*∓","fontSize":15,"font":"Liberation Serif","dy":-9},"encoding":{"x":{"datum":1.3159,"type":"quantitative","scale":{"domain":[1.2,2]},"axis":null},"y":{"datum":253.1,"type":"quantitative","scale":{"domain":[-120,423]},"axis":null}}},
   {"mark":{"type":"text","text":")","fontSize":23,"font":"Liberation Serif"},"encoding":{"x":{"datum":1.3406,"type":"quantitative","scale":{"domain":[1.2,2]},"axis":null},"y":{"datum":253.1,"type":"quantitative","scale":{"domain":[-120,423]},"axis":null}}},
   {"mark":{"type":"text","text":"→","fontSize":23,"font":"DejaVu Sans"},"encoding":{"x":{"datum":1.3587,"type":"quantitative","scale":{"domain":[1.2,2]},"axis":null},"y":{"datum":253.1,"type":"quantitative","scale":{"domain":[-120,423]},"axis":null}}},
   {"mark":{"type":"text","text":"Λπ","fontSize":23,"font":"Liberation Serif"},"encoding":{"x":{"datum":1.4032,"type":"quantitative","scale":{"domain":[1.2,2]},"axis":null},"y":{"datum":253.1,"type":"quantitative","scale":{"domain":[-120,423]},"axis":null}}},
   {"mark":{"type":"text","text":"±","fontSize":15,"font":"Liberation Serif","dy":-9},"encoding":{"x":{"datum":1.4451,"type":"quantitative","scale":{"domain":[1.2,2]},"axis":null},"y":{"datum":253.1,"type":"quantitative","scale":{"domain":[-120,423]},"axis":null}}},
   {"mark":{"type":"text","text":"(\u039b\u0305π","fontSize":23,"font":"Liberation Serif"},"encoding":{"x":{"datum":1.4686,"type":"quantitative","scale":{"domain":[1.2,2]},"axis":null},"y":{"datum":253.1,"type":"quantitative","scale":{"domain":[-120,423]},"axis":null}}},
   {"mark":{"type":"text","text":"∓","fontSize":15,"font":"Liberation Serif","dy":-9},"encoding":{"x":{"datum":1.5174,"type":"quantitative","scale":{"domain":[1.2,2]},"axis":null},"y":{"datum":253.1,"type":"quantitative","scale":{"domain":[-120,423]},"axis":null}}},
   {"mark":{"type":"text","text":")","fontSize":23,"font":"Liberation Serif"},"encoding":{"x":{"datum":1.5319,"type":"quantitative","scale":{"domain":[1.2,2]},"axis":null},"y":{"datum":253.1,"type":"quantitative","scale":{"domain":[-120,423]},"axis":null}}},
   {"mark":{"type":"text","text":"ALICE Performance","fontSize":23,"fontWeight":"bold"},"encoding":{"x":{"datum":1.6152,"type":"quantitative","scale":{"domain":[1.2,2]},"axis":null},"y":{"datum":198.6,"type":"quantitative","scale":{"domain":[-120,423]},"axis":null}}},
   {"mark":{"type":"text","text":"\u039e\u207b (\u039e\u0305\u207a)","fontSize":17,"font":"Liberation Serif"},"encoding":{"x":{"datum":1.2487,"type":"quantitative","scale":{"domain":[1.2,2]},"axis":null},"y":{"datum":171.1,"type":"quantitative","scale":{"domain":[-120,423]},"axis":null}}},
   {"mark":{"type":"text","text":"Σ*± (\u03a3\u0305*∓)","fontSize":17,"font":"Liberation Serif"},"encoding":{"x":{"datum":1.4029,"type":"quantitative","scale":{"domain":[1.2,2]},"axis":null},"y":{"datum":158.7,"type":"quantitative","scale":{"domain":[-120,423]},"axis":null}}},
   {"mark":{"type":"rule","color":"black","strokeWidth":1.2},"encoding":{"x":{"datum":1.2739,"type":"quantitative","scale":{"domain":[1.2,2]},"axis":null},"x2":{"datum":1.3},"y":{"datum":-0.34,"type":"quantitative","scale":{"domain":[-120,423]},"axis":null}}},
   {"mark":{"type":"circle","color":"black","size":40,"opacity":1},"encoding":{"x":{"datum":1.287,"type":"quantitative","scale":{"domain":[1.2,2]},"axis":null},"y":{"datum":-0.34,"type":"quantitative","scale":{"domain":[-120,423]},"axis":null}}},
   {"mark":{"type":"text","text":"Data, event-mix bkg subtracted","fontSize":19,"baseline":"middle"},"encoding":{"x":{"datum":1.3078,"type":"quantitative","scale":{"domain":[1.2,2]},"axis":null},"y":{"datum":-0.34,"type":"quantitative","scale":{"domain":[-120,423]},"axis":null}}},
   {"mark":{"type":"rule","color":"#ff0000","strokeWidth":2},"encoding":{"x":{"datum":1.2739,"type":"quantitative","scale":{"domain":[1.2,2]},"axis":null},"x2":{"datum":1.3},"y":{"datum":-42.5,"type":"quantitative","scale":{"domain":[-120,423]},"axis":null}}},
   {"mark":{"type":"text","text":"Combined fit","fontSize":19,"baseline":"middle"},"encoding":{"x":{"datum":1.3078,"type":"quantitative","scale":{"domain":[1.2,2]},"axis":null},"y":{"datum":-42.5,"type":"quantitative","scale":{"domain":[-120,423]},"axis":null}}},
   {"mark":{"type":"rule","color":"#ff0000","strokeWidth":2,"strokeDash":[7,5]},"encoding":{"x":{"datum":1.2739,"type":"quantitative","scale":{"domain":[1.2,2]},"axis":null},"x2":{"datum":1.3},"y":{"datum":-84.9,"type":"quantitative","scale":{"domain":[-120,423]},"axis":null}}},
   {"mark":{"type":"text","text":"Residual background","fontSize":19,"baseline":"middle"},"encoding":{"x":{"datum":1.3078,"type":"quantitative","scale":{"domain":[1.2,2]},"axis":null},"y":{"datum":-84.9,"type":"quantitative","scale":{"domain":[-120,423]},"axis":null}}},
   {"mark":{"type":"text","text":"M","fontSize":26,"fontStyle":"italic"},"encoding":{"x":{"datum":1.7899,"type":"quantitative","scale":{"domain":[1.2,2]},"axis":null},"y":{"datum":-193.3,"type":"quantitative","scale":{"domain":[-120,423]},"axis":null}}},
   {"mark":{"type":"text","text":"Λπ","fontSize":18,"dy":7},"encoding":{"x":{"datum":1.8203,"type":"quantitative","scale":{"domain":[1.2,2]},"axis":null},"y":{"datum":-193.3,"type":"quantitative","scale":{"domain":[-120,423]},"axis":null}}},
   {"mark":{"type":"text","text":"(GeV/c²)","fontSize":25,"align":"right"},"encoding":{"x":{"datum":2.0,"type":"quantitative","scale":{"domain":[1.2,2]},"axis":null},"y":{"datum":-193.3,"type":"quantitative","scale":{"domain":[-120,423]},"axis":null}}},
   {"mark":{"type":"text","text":"Counts / (8 MeV/c²)","fontSize":25,"align":"right","angle":270},"encoding":{"x":{"datum":1.1348,"type":"quantitative","scale":{"domain":[1.2,2]},"axis":null},"y":{"datum":424.5,"type":"quantitative","scale":{"domain":[-120,423]},"axis":null}}},
   {"mark":{"type":"text","text":"ALI-PERF-115322","font":"Liberation Mono","fontWeight":"bold","fontSize":14,"color":"#a8a8a8"},"encoding":{"x":{"datum":1.0884,"type":"quantitative","scale":{"domain":[1.2,2]},"axis":null},"y":{"datum":-208.3,"type":"quantitative","scale":{"domain":[-120,423]},"axis":null}}}
  ]}
 ]
}
]
}
